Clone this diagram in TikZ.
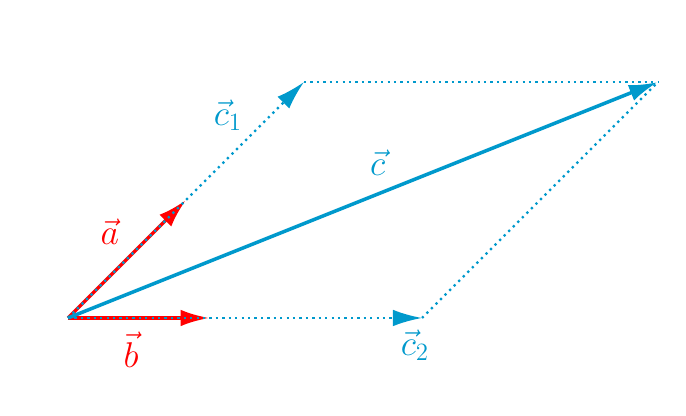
\documentclass[tikz,border=0pt]{standalone}
\usetikzlibrary{arrows.meta}
\definecolor{vecblue}{RGB}{0,153,204}
\tikzset{
  vec/.style={line width=1.7pt,-{Latex[length=14pt,width=8pt]}},
  dotvec/.style={vecblue,line width=1.1pt,dotted,-{Latex[length=14pt,width=8pt]}},
  lab/.style={font=\LARGE}
}
\begin{document}
\begin{tikzpicture}
\useasboundingbox (-1.153,-1.661) rectangle (10.475,5.39);
%\draw[step=1cm,gray,very thin] (0,0) grid (10,5); %background grid

\coordinate (O) at (0,0);
\coordinate (A) at (2,2);
\coordinate (B) at (2.4,0);
\coordinate (C1) at (4,4);
\coordinate (C2) at (6,0);
\coordinate (C) at (10,4);

\draw[vec,red] (O)--(A);
\draw[vec,red] (O)--(B);

\draw[dotvec] (O)--(C1);
\draw[dotvec] (O)--(C2);
\draw[vecblue,line width=1.1pt,dotted] (C1)--(C);
\draw[vecblue,line width=1.1pt,dotted] (C2)--(C);

\draw[vec,vecblue] (O)--(C);

\node[lab,red] (la) at (0.71,1.46) {$\vec a$};
\node[lab,red] (lb) at (1.07,-0.54) {$\vec b$};
\node[lab,vecblue] (lc1) at (2.71,3.44) {$\vec c_1$};
\node[lab,vecblue] (lc2) at (5.88,-0.46) {$\vec c_2$};
\node[lab,vecblue] (lc) at (5.25,2.64) {$\vec c$};
\end{tikzpicture}
\end{document}
